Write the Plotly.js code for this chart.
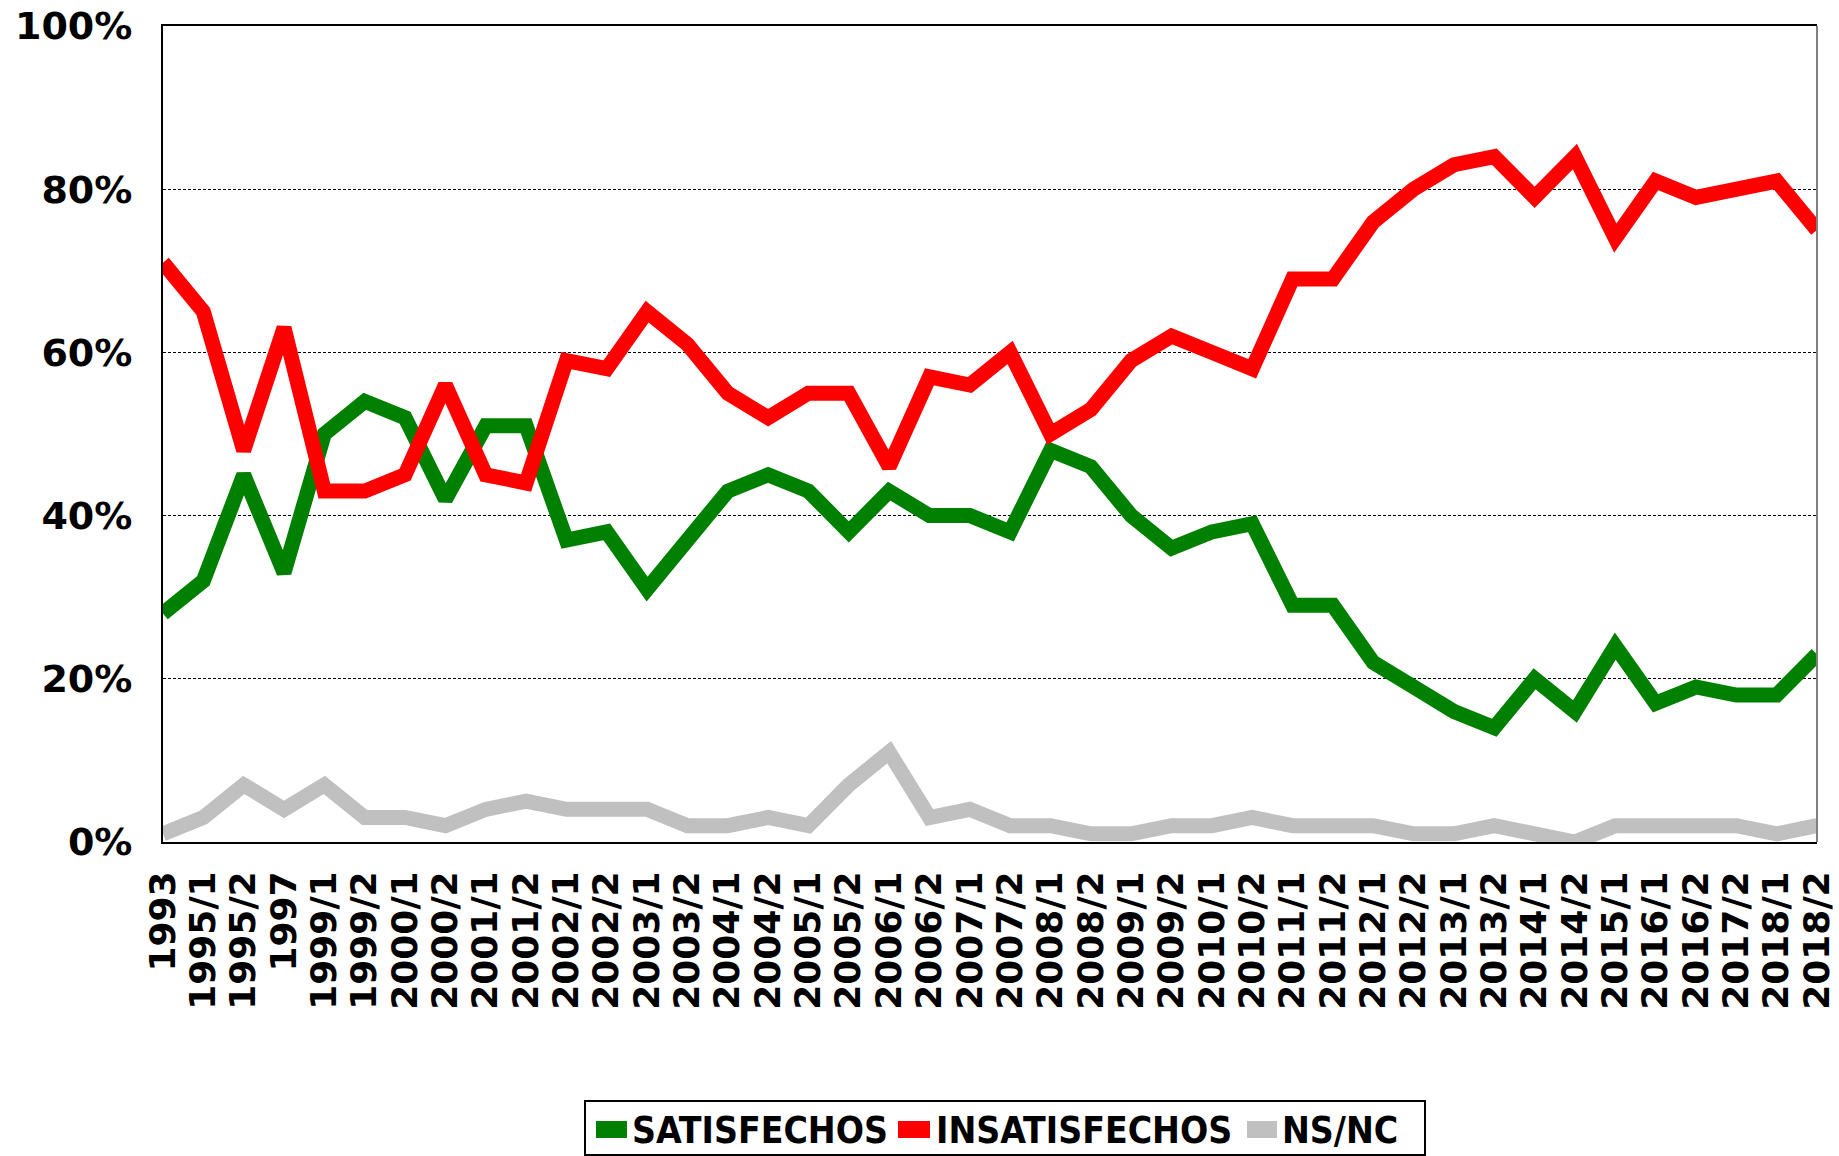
<!DOCTYPE html>
<html>
<head>
<meta charset="utf-8">
<script src="https://cdn.plot.ly/plotly-3.0.1.min.js"></script>
<style>
  html, body { margin: 0; padding: 0; background: #ffffff; }
  #chart { width: 1839px; height: 1156px; }
</style>
</head>
<body>
<div id="chart"></div>
<script>
const categories = ["1993","1995/1","1995/2","1997","1999/1","1999/2","2000/1","2000/2","2001/1","2001/2",
  "2002/1","2002/2","2003/1","2003/2","2004/1","2004/2","2005/1","2005/2","2006/1","2006/2",
  "2007/1","2007/2","2008/1","2008/2","2009/1","2009/2","2010/1","2010/2","2011/1","2011/2",
  "2012/1","2012/2","2013/1","2013/2","2014/1","2014/2","2015/1","2016/1","2016/2","2017/2",
  "2018/1","2018/2"];

const satisfechos = [28,32,45,33,50,54,52,42,51,51,37,38,31,37,43,45,43,38,43,40,40,38,48,46,40,36,38,39,29,29,22,19,16,14,20,16,24,17,19,18,18,23];
const insatisfechos = [71,65,48,63,43,43,45,56,45,44,59,58,65,61,55,52,55,55,46,57,56,60,50,53,59,62,60,58,69,69,76,80,83,84,79,84,74,81,79,80,81,75];
const nsnc = [1,3,7,4,7,3,3,2,4,5,4,4,4,2,2,3,2,7,11,3,4,2,2,1,1,2,2,3,2,2,2,1,1,2,1,0,2,2,2,2,1,2];

const seriesNames = ["SATISFECHOS", "INSATISFECHOS", "NS/NC"];
const seriesColors = ["#008000", "#FF0000", "#C0C0C0"];
const yTickVals = [0, 20, 40, 60, 80, 100];

// plot area in pixels
const W = 1839, H = 1156;
const PL = 163, PR = 1817, PT = 26, PB = 842;
const px = x => (x - PL) / (PR - PL);
const py = y => (PB - y) / (PB - PT);

const values = [satisfechos, insatisfechos, nsnc];
const traces = values.map((v, i) => ({
  type: "scatter",
  mode: "lines",
  x: categories,
  y: v,
  name: seriesNames[i],
  line: { color: seriesColors[i], width: 15 },
  showlegend: false,
  hoverinfo: "x+y+name"
}));

const xTickFont = { family: "DejaVu Sans", size: 36, color: "#000000", weight: "bold" };
const yTickFont = { family: "DejaVu Sans", size: 38, color: "#000000", weight: "bold" };
const legFont = { family: "DejaVu Sans Condensed, Liberation Sans, sans-serif", size: 37, color: "#000000", weight: "bold" };

// manual legend layout (pixels)
const legItems = [
  { sx0: 596, sx1: 627, tx: 630 },
  { sx0: 898, sx1: 930, tx: 934 },
  { sx0: 1247, sx1: 1277, tx: 1280 }
];

const shapes = [
  // right border of plot area (grey)
  { type: "line", xref: "paper", yref: "paper", x0: 1, x1: 1, y0: 0, y1: 1,
    line: { color: "#808080", width: 2 } },
  // legend box
  { type: "rect", xref: "paper", yref: "paper", x0: px(585), x1: px(1425), y0: py(1101), y1: py(1155),
    line: { color: "#000000", width: 2 }, fillcolor: "rgba(0,0,0,0)" }
];
const annotations = [];
legItems.forEach((it, i) => {
  shapes.push({ type: "rect", xref: "paper", yref: "paper",
    x0: px(it.sx0), x1: px(it.sx1), y0: py(1121), y1: py(1138),
    line: { width: 0 }, fillcolor: seriesColors[i] });
  annotations.push({ xref: "paper", yref: "paper", x: px(it.tx), y: py(1130),
    xanchor: "left", yanchor: "middle", showarrow: false,
    text: seriesNames[i], font: legFont });
});

const layout = {
  width: W, height: H,
  margin: { l: PL, r: W - PR, t: PT, b: H - PB, pad: 0 },
  paper_bgcolor: "#ffffff",
  plot_bgcolor: "#ffffff",
  showlegend: false,
  xaxis: {
    type: "category",
    categoryorder: "array",
    categoryarray: categories,
    range: [0, categories.length - 1],
    tickmode: "linear", tick0: 0, dtick: 1,
    tickangle: -90,
    tickfont: xTickFont,
    ticks: "",
    ticklabelstandoff: 13,
    showgrid: false,
    showline: true, linecolor: "#000000", linewidth: 2,
    mirror: true,
    zeroline: false,
    fixedrange: true
  },
  yaxis: {
    range: [0, 100],
    tickmode: "array",
    tickvals: yTickVals,
    ticktext: yTickVals.map(v => v + "%"),
    tickfont: yTickFont,
    ticks: "",
    ticklabelstandoff: 21,
    showgrid: true, gridcolor: "#000000", gridwidth: 1, griddash: "3px,2px",
    showline: true, linecolor: "#000000", linewidth: 2,
    zeroline: false,
    fixedrange: true
  },
  shapes: shapes,
  annotations: annotations
};

Plotly.newPlot("chart", traces, layout, { displayModeBar: false, staticPlot: true });
</script>
</body>
</html>
